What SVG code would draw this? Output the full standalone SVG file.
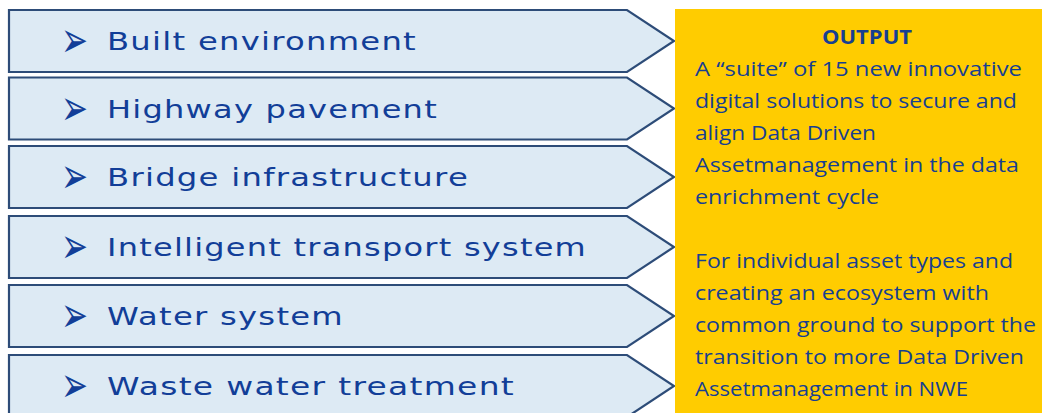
<svg xmlns="http://www.w3.org/2000/svg" width="1042" height="413" viewBox="0 0 1042 413">
<style>
.chev{fill:#DDEAF4;stroke:#2D4C78;stroke-width:2.2;stroke-linejoin:miter}
.lbl{font-family:"DejaVu Sans",Verdana,sans-serif;font-size:25.5px;letter-spacing:1px;fill:#123E98}
.bul{font-family:"DejaVu Sans",sans-serif;font-size:50px;fill:#123E98}
.out{font-family:"Open Sans","Liberation Sans",sans-serif;font-size:20.5px;fill:#173F91}
.outb{font-family:"Open Sans","Liberation Sans",sans-serif;font-size:20px;font-weight:bold;fill:#173F91}
</style>
<rect width="1042" height="413" fill="#FFFFFF"/>
<g id="connectors"/>
<g id="node-built">
<polygon class="chev" points="9,10 627,10 674,41 627,72 9,72"/>
<text class="bul" x="61" y="57" textLength="27" lengthAdjust="spacingAndGlyphs">➢</text>
<text class="lbl" x="107" y="50" textLength="310" lengthAdjust="spacingAndGlyphs">Built environment</text>
</g>
<g id="node-highway">
<polygon class="chev" points="9,77.5 627,77.5 674,108.5 627,139.5 9,139.5"/>
<text class="bul" x="61" y="124.5" textLength="27" lengthAdjust="spacingAndGlyphs">➢</text>
<text class="lbl" x="107" y="117.5" textLength="331" lengthAdjust="spacingAndGlyphs">Highway pavement</text>
</g>
<g id="node-bridge">
<polygon class="chev" points="9,146 627,146 674,177 627,208 9,208"/>
<text class="bul" x="61" y="193" textLength="27" lengthAdjust="spacingAndGlyphs">➢</text>
<text class="lbl" x="107" y="186" textLength="362" lengthAdjust="spacingAndGlyphs">Bridge infrastructure</text>
</g>
<g id="node-its">
<polygon class="chev" points="9,216 627,216 674,247 627,278 9,278"/>
<text class="bul" x="61" y="263" textLength="27" lengthAdjust="spacingAndGlyphs">➢</text>
<text class="lbl" x="107" y="256" textLength="480" lengthAdjust="spacingAndGlyphs">Intelligent transport system</text>
</g>
<g id="node-water">
<polygon class="chev" points="9,285 627,285 674,316 627,347 9,347"/>
<text class="bul" x="61" y="332" textLength="27" lengthAdjust="spacingAndGlyphs">➢</text>
<text class="lbl" x="107" y="325" textLength="237" lengthAdjust="spacingAndGlyphs">Water system</text>
</g>
<g id="node-waste">
<polygon class="chev" points="9,355 627,355 674,386 627,417 9,417"/>
<text class="bul" x="61" y="402" textLength="27" lengthAdjust="spacingAndGlyphs">➢</text>
<text class="lbl" x="107" y="395" textLength="408" lengthAdjust="spacingAndGlyphs">Waste water treatment</text>
</g>
<g id="node-output">
<rect x="675" y="9" width="367" height="404" fill="#FFCC00"/>
<text class="outb" x="822" y="44" textLength="90" lengthAdjust="spacingAndGlyphs">OUTPUT</text>
<text class="out" x="695" y="76" textLength="327" lengthAdjust="spacingAndGlyphs">A “suite” of 15 new innovative</text>
<text class="out" x="695" y="108" textLength="322" lengthAdjust="spacingAndGlyphs">digital solutions to secure and</text>
<text class="out" x="695" y="140" textLength="181" lengthAdjust="spacingAndGlyphs">align Data Driven</text>
<text class="out" x="695" y="172" textLength="324" lengthAdjust="spacingAndGlyphs">Assetmanagement in the data</text>
<text class="out" x="695" y="204" textLength="184" lengthAdjust="spacingAndGlyphs">enrichment cycle</text>
<text class="out" x="695" y="268" textLength="318" lengthAdjust="spacingAndGlyphs">For individual asset types and</text>
<text class="out" x="695" y="300" textLength="294" lengthAdjust="spacingAndGlyphs">creating an ecosystem with</text>
<text class="out" x="695" y="332" textLength="341" lengthAdjust="spacingAndGlyphs">common ground to support the</text>
<text class="out" x="695" y="364" textLength="329" lengthAdjust="spacingAndGlyphs">transition to more Data Driven</text>
<text class="out" x="695" y="396" textLength="273" lengthAdjust="spacingAndGlyphs">Assetmanagement in NWE</text>
</g>
</svg>
